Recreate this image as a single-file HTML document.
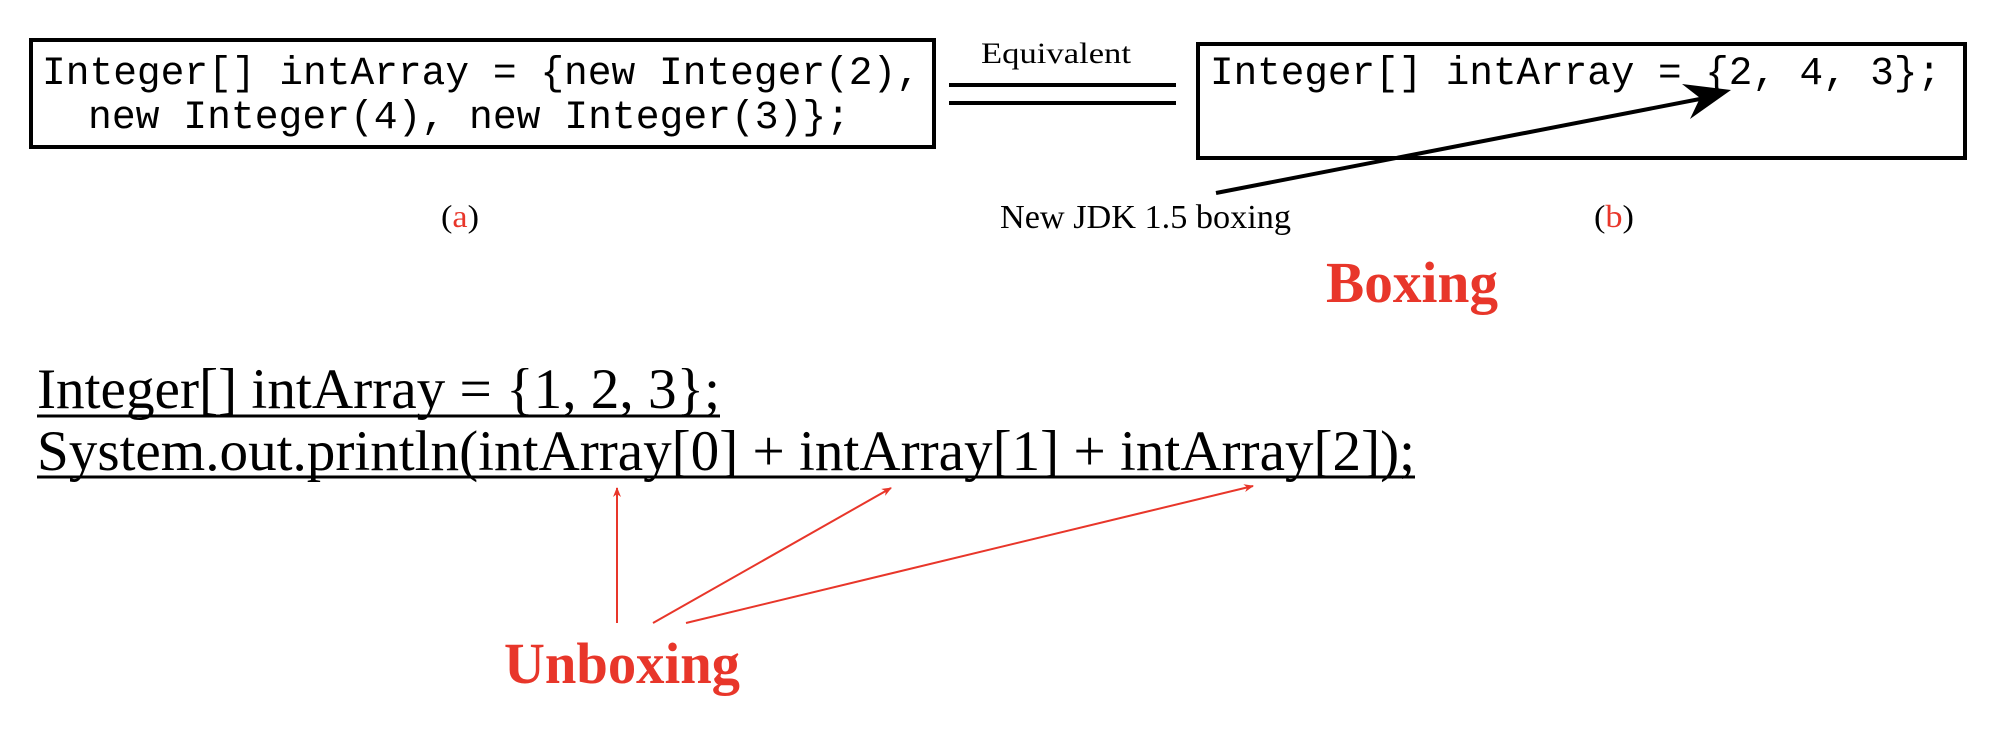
<!DOCTYPE html>
<html><head><meta charset="utf-8"><style>
html,body{margin:0;padding:0;background:#fff;width:2004px;height:732px;overflow:hidden}
</style></head><body>
<svg width="2004" height="732" viewBox="0 0 2004 732" xmlns="http://www.w3.org/2000/svg">
<defs>
<marker id="rh" markerWidth="10" markerHeight="8" refX="9" refY="4" orient="auto" markerUnits="userSpaceOnUse">
<path d="M0,0 L10,4 L0,8 L3,4 Z" fill="#e8362a"/></marker>
</defs>
<rect x="31" y="40" width="903" height="107" fill="none" stroke="#000" stroke-width="4"/>
<g font-family="Liberation Mono, monospace" font-size="40" fill="#000">
<text x="42" y="84" textLength="878" lengthAdjust="spacingAndGlyphs">Integer[] intArray = {new Integer(2),</text>
<text x="88" y="128" textLength="762" lengthAdjust="spacingAndGlyphs">new Integer(4), new Integer(3)};</text>
<text x="1210" y="84" textLength="731" lengthAdjust="spacingAndGlyphs">Integer[] intArray = {2, 4, 3};</text>
</g>
<rect x="1198" y="44" width="767" height="114" fill="none" stroke="#000" stroke-width="4"/>
<line x1="949" y1="85" x2="1176" y2="85" stroke="#000" stroke-width="4"/>
<line x1="949" y1="103" x2="1176" y2="103" stroke="#000" stroke-width="4"/>
<g font-family="Liberation Serif, serif" fill="#000">
<text x="981" y="63" font-size="30" textLength="150" lengthAdjust="spacingAndGlyphs">Equivalent</text>
<text x="1000" y="228" font-size="34" textLength="291" lengthAdjust="spacingAndGlyphs">New JDK 1.5 boxing</text>
<text x="441" y="227" font-size="32" textLength="38" lengthAdjust="spacingAndGlyphs">(<tspan fill="#e8362a">a</tspan>)</text>
<text x="1594" y="227" font-size="32" textLength="40" lengthAdjust="spacingAndGlyphs">(<tspan fill="#e8362a">b</tspan>)</text>
<text x="37" y="408" font-size="57" textLength="683" lengthAdjust="spacingAndGlyphs">Integer[] intArray = {1, 2, 3};</text>
<text x="37" y="470" font-size="57" textLength="1378" lengthAdjust="spacingAndGlyphs">System.out.println(intArray[0] + intArray[1] + intArray[2]);</text>
<text x="1326" y="302" font-size="58" font-weight="bold" fill="#e8362a" textLength="172" lengthAdjust="spacingAndGlyphs">Boxing</text>
<text x="504" y="683" font-size="58" font-weight="bold" fill="#e8362a" textLength="236" lengthAdjust="spacingAndGlyphs">Unboxing</text>
</g>
<line x1="37" y1="416" x2="720" y2="416" stroke="#000" stroke-width="3"/>
<line x1="37" y1="477" x2="1415" y2="477" stroke="#000" stroke-width="3"/>
<line x1="1216" y1="193" x2="1705" y2="98" stroke="#000" stroke-width="4"/>
<path d="M1731,90 L1690,119 L1700,98 L1682,84 Z" fill="#000"/>
<line x1="617" y1="623" x2="617" y2="488" stroke="#e8362a" stroke-width="2" marker-end="url(#rh)"/>
<line x1="653" y1="623" x2="891" y2="488" stroke="#e8362a" stroke-width="2" marker-end="url(#rh)"/>
<line x1="686" y1="623" x2="1253" y2="486" stroke="#e8362a" stroke-width="2" marker-end="url(#rh)"/>
</svg>
</body></html>
